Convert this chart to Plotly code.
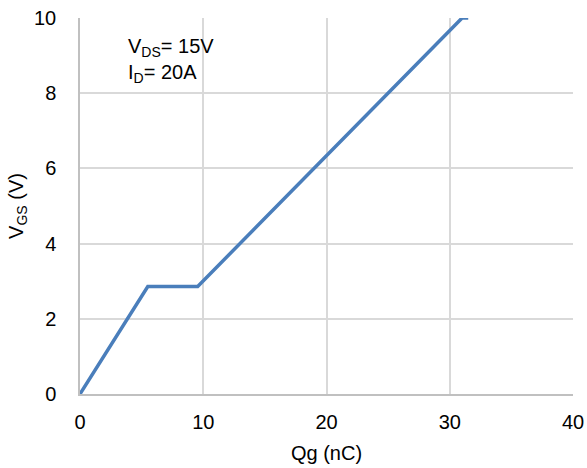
import plotly.graph_objects as go

qg = [0, 5.5, 9.55, 31.0, 31.5]
vgs = [0, 2.86, 2.86, 10.0, 10.0]
x_ticks = [0, 10, 20, 30, 40]
y_ticks = [0, 2, 4, 6, 8, 10]

FONT = "Liberation Sans, Arial"

fig = go.Figure()
fig.add_trace(go.Scatter(x=qg, y=vgs, mode="lines",
                         line=dict(color="#4a7ebb", width=3.5),
                         showlegend=False, cliponaxis=False))

fig.add_annotation(x=3.7, y=9.6, xref="x", yref="y",
                   text="V<sub>DS</sub>= 15V<br>I<sub>D</sub>= 20A",
                   showarrow=False, xanchor="left", yanchor="top", align="left",
                   font=dict(family=FONT, size=20, color="#000"))

fig.update_layout(
    width=587, height=468,
    margin=dict(l=80, r=14, t=18, b=74),
    paper_bgcolor="white", plot_bgcolor="white",
    font=dict(family=FONT, size=20, color="#000"),
)
fig.update_xaxes(range=[0, 40], tickvals=x_ticks, showgrid=True, gridcolor="#d9d9d9", gridwidth=1.5,
                 showline=True, linecolor="#c0c0c0", linewidth=1.5, mirror=False,
                 zeroline=False, ticks="", ticklabelstandoff=9, automargin=False,
                 tickfont=dict(family=FONT, size=20, color="#000"),
                 title=dict(text="Qg (nC)", standoff=14, font=dict(family=FONT, size=20, color="#000")))
fig.update_yaxes(range=[0, 10], tickvals=y_ticks, showgrid=True, gridcolor="#d9d9d9", gridwidth=1.5,
                 showline=True, linecolor="#c0c0c0", linewidth=1.5,
                 zeroline=False, ticks="", ticklabelstandoff=18, automargin=False,
                 tickfont=dict(family=FONT, size=20, color="#000"),
                 title=dict(text="V<sub>GS</sub> (V)", standoff=5, font=dict(family=FONT, size=20, color="#000")))

fig.write_html("out.html")
